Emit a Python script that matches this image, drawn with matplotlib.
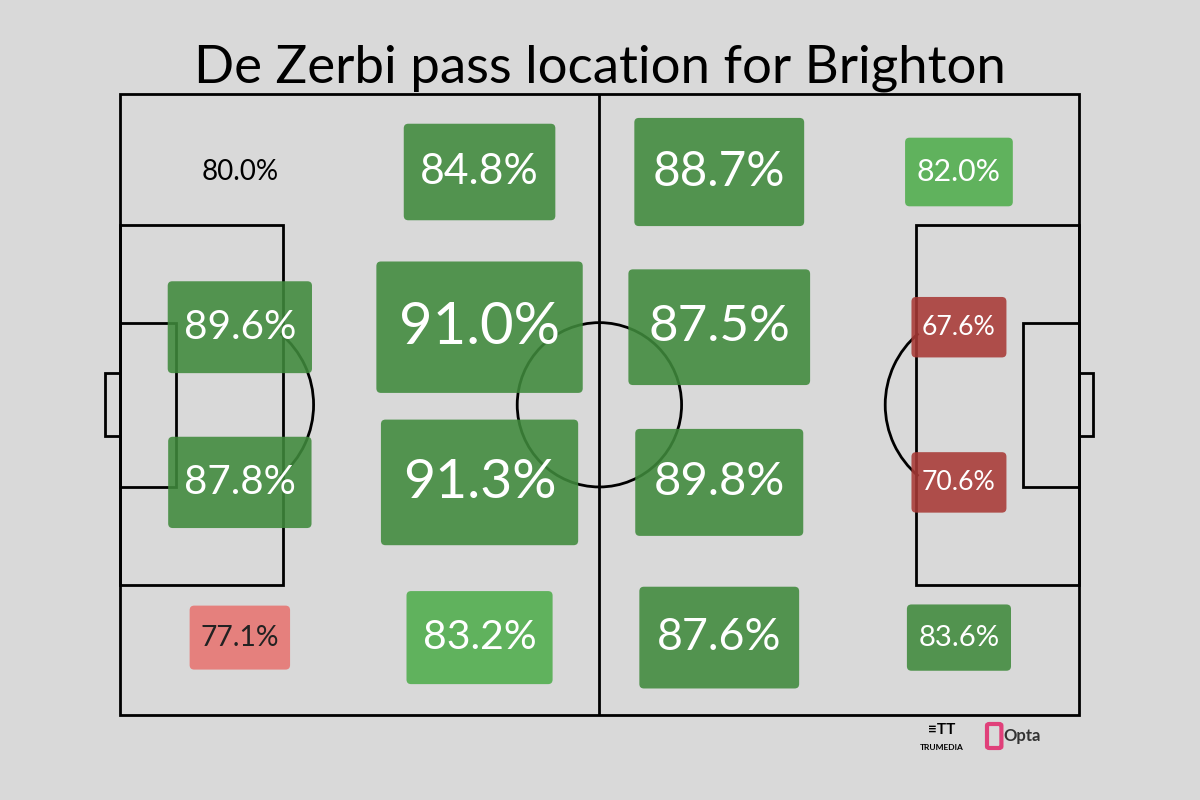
import matplotlib
matplotlib.use("Agg")
import matplotlib.pyplot as plt
from matplotlib.patches import FancyBboxPatch, Rectangle, Circle, Arc

plt.rcParams['font.family'] = ['Lato', 'DejaVu Sans']

# 4x4 zones: rows top->bottom, columns left->right
values = [[80.0, 84.8, 88.7, 82.0],
          [89.6, 91.0, 87.5, 67.6],
          [87.8, 91.3, 89.8, 70.6],
          [77.1, 83.2, 87.6, 83.6]]
# relative box size (width in pitch units)
box_size = [[10.4, 16.6, 18.6, 11.8],
            [15.8, 22.6, 19.9, 10.4],
            [15.7, 21.6, 18.4, 10.4],
            [11.0, 16.0, 17.5, 11.4]]
# colour class: 0 none, 1 dark green, 2 light green, 3 dark red, 4 light red
klass = [[0, 1, 1, 2],
         [1, 1, 1, 3],
         [1, 1, 1, 3],
         [4, 2, 1, 1]]
palette = {0: 'none', 1: '#3f8a3c', 2: '#4fad4c', 3: '#a83a36', 4: '#e77471'}
textcol = {0: 'black', 1: 'white', 2: 'white', 3: 'white', 4: '#222222'}

L, W = 105.0, 68.0
fig = plt.figure(figsize=(12, 8), dpi=100, facecolor='#d9d9d9')
ax = fig.add_axes([0.1, 0.106, 0.799, 0.776])
ax.set_facecolor('#d9d9d9')
ax.set_xlim(0, L); ax.set_ylim(W, 0)
ax.axis('off')

lw = 2
lc = 'black'
kw = dict(fill=False, ec=lc, lw=lw, zorder=1, clip_on=False)
ax.add_patch(Rectangle((0, 0), L, W, **kw))
ax.plot([L/2, L/2], [0, W], color=lc, lw=lw, zorder=1)
ax.add_patch(Circle((L/2, W/2), 9.0, **kw))
for side in (0, 1):
    pw, ph = 17.8, 39.4
    ax.add_patch(Rectangle((0 if side == 0 else L - pw, W/2 - ph/2), pw, ph, **kw))
    sw, sh = 6.1, 18.0
    ax.add_patch(Rectangle((0 if side == 0 else L - sw, W/2 - sh/2), sw, sh, **kw))
    gw, gh = 1.6, 6.9
    ax.add_patch(Rectangle((-gw if side == 0 else L, W/2 - gh/2), gw, gh, **kw))
    spot = 11 if side == 0 else L - 11
    r = 10.2
    if side == 0:
        ax.add_patch(Arc((spot, W/2), 2*r, 2*r, theta1=-50, theta2=50, ec=lc, lw=lw, zorder=1))
    else:
        ax.add_patch(Arc((spot, W/2), 2*r, 2*r, theta1=130, theta2=230, ec=lc, lw=lw, zorder=1))

zw, zh = L/4, W/4
for i in range(4):
    for j in range(4):
        cx, cy = zw*(j+0.5), zh*(i+0.5)
        w = box_size[i][j]; h = w/1.57
        k = klass[i][j]
        if k:
            ax.add_patch(FancyBboxPatch((cx - w/2 + 0.5, cy - h/2 + 0.5), w - 1, h - 1,
                                        boxstyle='round,pad=0.5', fc=palette[k], ec='none',
                                        alpha=0.88, zorder=2))
        ax.text(cx, cy, f"{values[i][j]:.1f}%", ha='center', va='center',
                fontsize=(h*2.9 if k else 20), color=textcol[k], zorder=3)

fig.text(0.5, 0.915, "De Zerbi pass location for Brighton", ha='center', va='center', fontsize=38)
fig.text(0.785, 0.066, "TRUMEDIA", ha='center', va='center', fontsize=6, fontweight='bold')
fig.text(0.785, 0.087, "≡TT", ha='center', va='center', fontsize=11, fontweight='bold')
fig.text(0.836, 0.08, "Opta", ha='left', va='center', fontsize=12, fontweight='bold', color='#333333')
fig.patches.append(FancyBboxPatch((0.8245, 0.067), 0.008, 0.026, boxstyle='round,pad=0.002',
                                  fc='none', ec='#e0407a', lw=3, transform=fig.transFigure, figure=fig))

fig.savefig("out.png", facecolor=fig.get_facecolor())
